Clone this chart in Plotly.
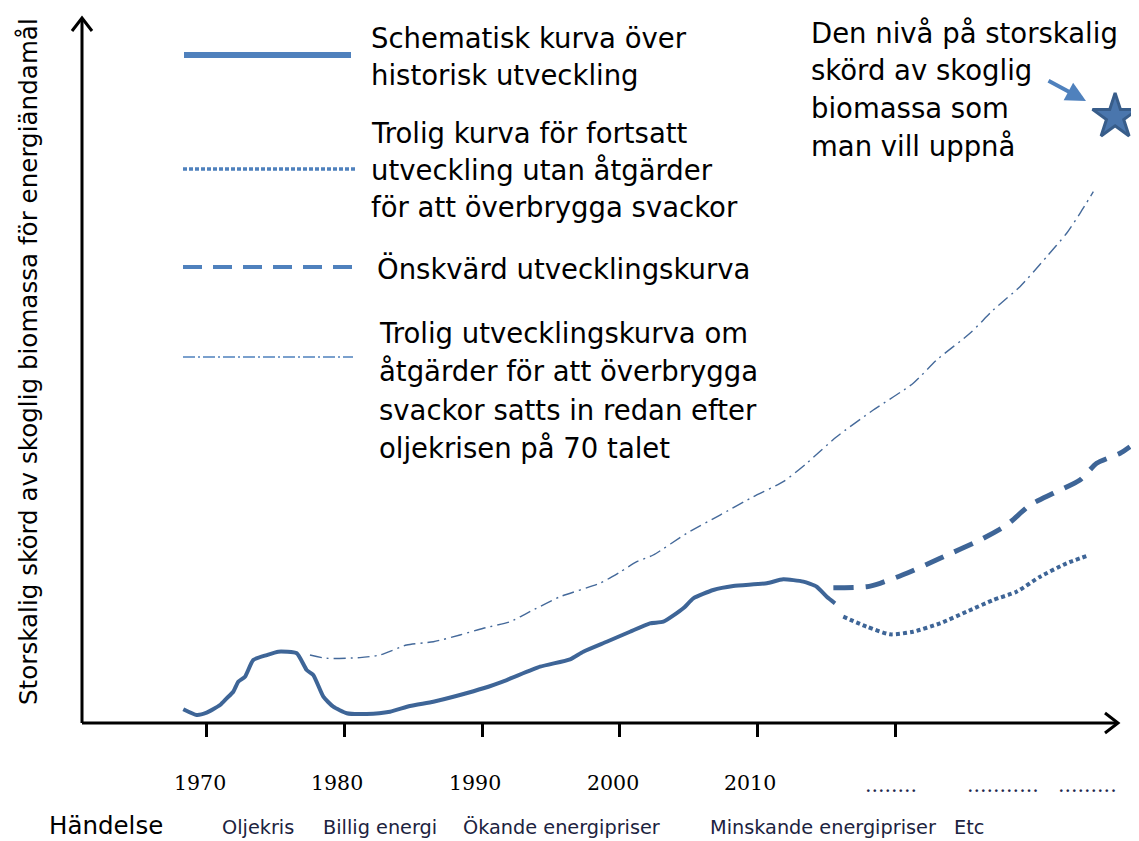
import plotly.graph_objects as go

# ---------------- data ----------------
hist_years = [1968.30, 1969.27, 1970.00, 1970.97, 1971.45, 1971.93, 1972.29, 1972.78, 1973.38,
              1974.36, 1975.20, 1976.54, 1977.26, 1977.74, 1978.47, 1979.19, 1980.17, 1981.62,
              1983.31, 1984.76, 1986.46, 1988.39, 1990.09, 1991.79, 1994.21, 1996.39, 1997.35,
              1999.05, 2000.74, 2002.19, 2003.16, 2004.61, 2005.34, 2006.79, 2008.24, 2010.67,
              2011.87, 2013.33, 2014.30, 2015.03, 2015.63]
hist_level = [1.96, 1.14, 1.47, 2.57, 3.53, 4.47, 5.90, 6.61, 9.00,
              9.71, 10.19, 9.96, 7.57, 6.86, 3.76, 2.33, 1.39, 1.29,
              1.61, 2.43, 3.04, 4.00, 4.96, 6.14, 8.04, 9.10, 10.19,
              11.61, 13.04, 14.24, 14.47, 16.39, 17.81, 19.00, 19.57, 19.96,
              20.53, 20.19, 19.47, 18.04, 17.10]

likely_years = [2016.23, 2017.93, 2019.62, 2021.31, 2023.26, 2025.19, 2027.12, 2028.82,
                2030.52, 2032.45, 2033.91]
likely_level = [15.19, 13.76, 12.67, 13.04, 14.24, 15.90, 17.57, 18.76, 20.90, 22.81, 23.86]

desired_years = [2015.51, 2017.93, 2018.90, 2020.84, 2023.26, 2026.16, 2028.10, 2029.79,
                 2031.48, 2033.42, 2034.63, 2036.33, 2037.05]
desired_level = [19.33, 19.47, 19.96, 21.39, 23.53, 26.14, 28.29, 31.14, 32.81, 34.71,
                 37.10, 38.53, 39.47]

early_years = [1977.50, 1978.71, 1981.13, 1982.58, 1984.52, 1986.46, 1988.39, 1990.09,
               1992.03, 1993.24, 1995.66, 1998.56, 2000.02, 2001.23, 2002.43, 2004.86,
               2007.28, 2009.70, 2011.87, 2013.57, 2015.75, 2018.41, 2021.31, 2023.01,
               2025.43, 2027.12, 2029.06, 2031.00, 2032.45, 2033.42, 2034.39]
early_level = [9.71, 9.24, 9.34, 9.71, 11.14, 11.61, 12.57, 13.53,
               14.47, 15.67, 18.04, 19.96, 21.57, 23.04, 24.00, 27.10,
               29.71, 32.33, 34.47, 37.10, 40.90, 44.71, 48.53, 51.86,
               55.67, 59.00, 62.33, 66.61, 69.96, 72.81, 75.90]

target_year = [2035.97]
target_level = [86.61]

tick_years = [1970, 1980, 1990, 2000, 2010, 2020]
year_labels = ["1970", "1980", "1990", "2000", "2010"]
future_label_years = [2019.71, 2027.83, 2034.00]
future_labels = ["........", "...........", "........."]

event_title = "Händelse"
event_labels = ["Oljekris", "Billig energi", "Ökande energipriser", "Minskande energipriser", "Etc"]

legend_texts = [
    ["Schematisk kurva över", "historisk utveckling"],
    ["Trolig kurva för fortsatt", "utveckling utan åtgärder", "för att överbrygga svackor"],
    ["Önskvärd utvecklingskurva"],
    ["Trolig utvecklingskurva om", "åtgärder för att överbrygga", "svackor satts in redan efter",
     "oljekrisen på 70 talet"],
]
target_text = ["Den nivå på storskalig", "skörd av skoglig", "biomassa som", "man vill uppnå"]
y_title = "Storskalig skörd av skoglig biomassa för energiändamål"

# ---------------- layout geometry ----------------
# the page body has an 8px margin, so the figure is drawn 8px in from the corner
OFF = 8
W, H = 1139 - OFF, 841 - OFF
ML, MR, MT, MB = 82 - OFF, 3, 18 - OFF, 118
PW = W - ML - MR
PH = H - MT - MB
X0, X1 = 1960.944, 2037.488
Y0, Y1 = 0, PH / 7.0

def pxx(x):
    return (x - OFF - ML) / PW

def pyy(y):
    return (H - MB - (y - OFF)) / PH

FONT = "DejaVu Sans"
CURVE = "#3E6597"
LEG = "#4F81BD"

fig = go.Figure()

fig.add_trace(go.Scatter(x=early_years, y=early_level, mode="lines",
                         line=dict(color="#44699A", width=1.4, dash="12px,5px,2px,5px",
                                   shape="spline", smoothing=0.6)))
fig.add_trace(go.Scatter(x=desired_years, y=desired_level, mode="lines",
                         line=dict(color=CURVE, width=5, dash="20px,12px",
                                   shape="spline", smoothing=0.6)))
fig.add_trace(go.Scatter(x=likely_years, y=likely_level, mode="lines",
                         line=dict(color=CURVE, width=4, dash="4px,3px",
                                   shape="spline", smoothing=0.6)))
fig.add_trace(go.Scatter(x=hist_years, y=hist_level, mode="lines",
                         line=dict(color=CURVE, width=4, shape="spline", smoothing=0.5)))
fig.add_trace(go.Scatter(x=target_year, y=target_level, mode="markers", cliponaxis=False,
                         marker=dict(symbol="star", size=34, color="#4A76AD",
                                     line=dict(color="#385D8A", width=3))))

shapes = []
# axes
shapes.append(dict(type="line", xref="paper", yref="paper", x0=0, x1=pxx(1118), y0=0, y1=0,
                   line=dict(color="black", width=3)))
shapes.append(dict(type="line", xref="paper", yref="paper", x0=0, x1=0, y0=0, y1=1,
                   line=dict(color="black", width=3)))
# arrowheads
shapes.append(dict(type="path", xref="paper", yref="paper", xsizemode="pixel", ysizemode="pixel",
                   xanchor=pxx(1118), yanchor=0, path="M-13,10 L0,0 L-13,-10",
                   line=dict(color="black", width=3)))
shapes.append(dict(type="path", xref="paper", yref="paper", xsizemode="pixel", ysizemode="pixel",
                   xanchor=0, yanchor=1, path="M-10,-13 L0,0 L10,-13",
                   line=dict(color="black", width=3)))

# legend samples
leg_samples = [
    (184, 351, 55, dict(color=LEG, width=6)),
    (183, 357, 169, dict(color=LEG, width=3.5, dash="4px,2px")),
    (183, 356, 267, dict(color=LEG, width=4, dash="19px,11px")),
    (183, 353, 357, dict(color=LEG, width=1.5, dash="12px,3px,2px,3px")),
]
for x0, x1, y, ln in leg_samples:
    shapes.append(dict(type="line", xref="paper", yref="paper", x0=pxx(x0), x1=pxx(x1),
                       y0=pyy(y), y1=pyy(y), line=ln))

annotations = []

def txt(text, x, y, size=27.5, color="black", family=FONT, xanchor="left", **kw):
    annotations.append(dict(text=text, xref="paper", yref="paper", x=pxx(x), y=pyy(y),
                            xanchor=xanchor, yanchor="middle", showarrow=False, borderpad=0,
                            font=dict(family=family, size=size, color=color), **kw))

leg_text_pos = [(370, [38, 75]), (370, [133, 170, 207]), (376, [268]), (378, [333, 371, 410, 448])]
for (x, ys), lines in zip(leg_text_pos, legend_texts):
    for y, line in zip(ys, lines):
        txt(line, x, y)

for y, line in zip([33, 70, 108, 146], target_text):
    txt(line, 810, y)

# y title
txt(y_title, 28, 362, size=24.6, xanchor="center", textangle=-90)

# year labels
for yr, lab in zip(tick_years, year_labels):
    annotations.append(dict(text=lab, xref="x", yref="paper", x=yr, y=pyy(783), xshift=-7,
                            xanchor="center", yanchor="middle", showarrow=False,
                            font=dict(family="DejaVu Serif", size=20.5, color="black")))
for yr, lab in zip(future_label_years, future_labels):
    annotations.append(dict(text=lab, xref="x", yref="paper", x=yr, y=pyy(785),
                            xanchor="center", yanchor="middle", showarrow=False,
                            font=dict(family="DejaVu Serif", size=20.5, color="#1F2A4F")))

# events
txt(event_title, 48, 825, size=24.5)
for x, lab in zip([221, 322, 462, 709, 953], event_labels):
    txt(lab, x, 827, size=19.3, color="#1C2340")

# arrow to star
annotations.append(dict(text="", xref="paper", yref="paper", x=pxx(1086), y=pyy(101),
                        ax=-39, ay=-21, showarrow=True, arrowhead=2, arrowsize=1,
                        arrowwidth=4, arrowcolor=LEG))

fig.update_layout(
    width=W, height=H,
    margin=dict(l=ML, r=MR, t=MT, b=MB, pad=0),
    paper_bgcolor="white", plot_bgcolor="white",
    showlegend=False,
    xaxis=dict(range=[X0, X1], showgrid=False, zeroline=False, showline=False,
               tickvals=tick_years, ticks="outside", ticklen=13, tickwidth=3,
               tickcolor="black", showticklabels=False, fixedrange=True),
    yaxis=dict(range=[Y0, Y1], showgrid=False, zeroline=False, showline=False,
               showticklabels=False, ticks="", fixedrange=True),
    shapes=shapes,
    annotations=annotations,
)

fig.write_html("out.html")
